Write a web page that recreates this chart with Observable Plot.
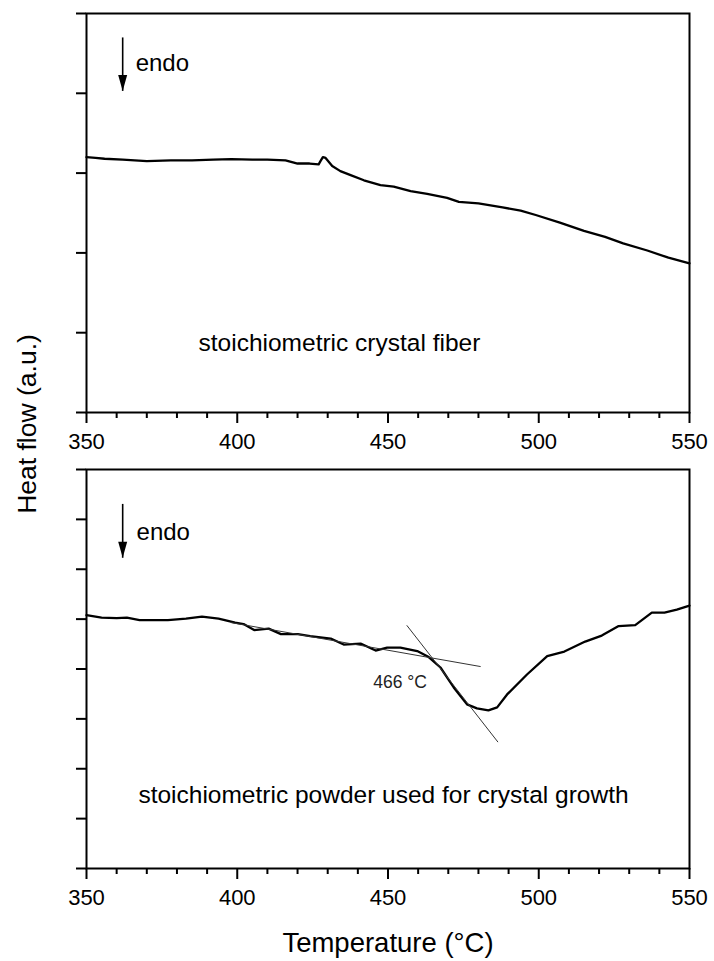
<!DOCTYPE html>
<html><head><meta charset="utf-8">
<script src="https://cdn.jsdelivr.net/npm/d3@7"></script>
<script src="https://cdn.jsdelivr.net/npm/@observablehq/plot@0.6"></script>
<style>
body{margin:0;background:#fff;}
#wrap{position:relative;width:714px;height:961px;background:#fff;font-family:"Liberation Sans",Arial,sans-serif;overflow:hidden;}
#top,#bot{position:absolute;left:0;}
#top{top:0px}
#bot{top:456px}
#ylab{position:absolute;left:27px;top:424px;transform:translate(-50%,-50%) rotate(-90deg);font-size:26.5px;white-space:nowrap;color:#000;}
</style></head><body>
<div id="wrap"><div id="top"></div><div id="bot"></div><div id="ylab">Heat flow (a.u.)</div></div>
<script>
// ---- data ----
const xMajorTicks = [350, 400, 450, 500, 550];
const xMinorTicks = [360, 370, 380, 390, 410, 420, 430, 440, 460, 470, 480, 490, 510, 520, 530, 540];
const topYTicks = [0, 1, 2, 3, 4, 5];
const botYTicks = [0, 1, 2, 3, 4, 5, 6, 7, 8];

// top panel: stoichiometric crystal fiber (temperature °C, heat flow a.u.)
const topT = [350, 353, 356, 362, 370, 378, 385, 392, 398, 405, 410, 416, 420, 424, 427, 427.6, 428.4, 429.3, 431.5, 434.2, 437.6, 442, 447.5, 451.9, 457.5, 463, 469.6, 473.5, 480, 488, 494, 499, 507, 515, 522, 528, 536, 543, 550];
const topV = [3.20, 3.19, 3.18, 3.17, 3.15, 3.16, 3.16, 3.17, 3.175, 3.17, 3.17, 3.16, 3.12, 3.12, 3.11, 3.15, 3.20, 3.19, 3.09, 3.025, 2.975, 2.91, 2.85, 2.83, 2.775, 2.74, 2.69, 2.64, 2.62, 2.57, 2.53, 2.475, 2.38, 2.275, 2.20, 2.12, 2.03, 1.94, 1.87];

// bottom panel: stoichiometric powder
const botT = [350, 355, 360, 363.4, 367.6, 372, 377, 383, 388.3, 393.8, 399.3, 402.1, 405.6, 410.4, 414.5, 420.1, 424.2, 431, 435.3, 440.9, 445.9, 449.7, 454.1, 459.7, 463.5, 467.4, 471.8, 476.2, 479.5, 483.3, 486.2, 489.5, 496.1, 502.8, 508.5, 515.4, 520.9, 526.5, 532, 537.5, 541.7, 545.8, 550];
const botV = [5.08, 5.03, 5.02, 5.03, 4.98, 4.98, 4.98, 5.01, 5.05, 5.01, 4.93, 4.90, 4.78, 4.81, 4.70, 4.70, 4.66, 4.61, 4.49, 4.51, 4.37, 4.43, 4.43, 4.36, 4.24, 4.03, 3.63, 3.29, 3.21, 3.17, 3.23, 3.49, 3.89, 4.26, 4.35, 4.55, 4.67, 4.86, 4.88, 5.13, 5.13, 5.19, 5.27];

// onset tangents
const baseTanT = [398, 480.6];
const baseTanV = [4.93, 4.05];
const steepTanT = [456.3, 486.4];
const steepTanV = [4.87, 2.54];

// annotations
const topLabel = "stoichiometric crystal fiber";
const botLabel = "stoichiometric powder used for crystal growth";
const endoLabel = "endo";
const onsetLabel = "466 °C";
const xLabel = "Temperature (°C)";
const topAnno = {arrowX: 362, arrowY1: 4.70, arrowY2: 4.03, endoX: 366.3, endoY: 4.37, textX: 433.9, textY: 0.87};
const botAnno = {arrowX: 362, arrowY1: 7.31, arrowY2: 6.23, endoX: 366.6, endoY: 6.75, textX: 448.5, textY: 1.47, onsetX: 454.0, onsetY: 3.74};

// ---- helpers ----
const FONT = "Liberation Sans, Arial, Helvetica, sans-serif";
const headDown = {
  draw(ctx) {
    ctx.moveTo(0, 0);
    ctx.lineTo(-4.5, -16);
    ctx.lineTo(4.5, -16);
    ctx.closePath();
  }
};
const toRows = (T, V) => T.map((t, i) => ({t, v: V[i]}));

function panel({height, marginBottom, yMax, yTicks, rows, anno, label, extra = []}) {
  return Plot.plot({
    width: 714,
    height,
    marginLeft: 86,
    marginRight: 25,
    marginTop: 13,
    marginBottom,
    style: {fontFamily: FONT, fontSize: "22px", color: "black", background: "white", overflow: "visible"},
    x: {domain: [350, 550], label: null},
    y: {domain: [0, yMax], label: null},
    marks: [
      Plot.axisX({ticks: xMinorTicks, tickSize: 6, strokeWidth: 2, fill: "none", label: null}),
      Plot.axisX({ticks: xMajorTicks, tickSize: 11, tickPadding: 10, strokeWidth: 2, fontSize: 22, tickFormat: d => String(d), label: null}),
      Plot.axisY({ticks: yTicks, tickSize: 10, strokeWidth: 2, fill: "none", label: null}),
      Plot.frame({stroke: "black", strokeWidth: 2}),
      Plot.line(rows, {x: "t", y: "v", stroke: "black", strokeWidth: 2.3, strokeLinejoin: "round"}),
      ...extra,
      Plot.link([anno], {x1: "arrowX", x2: "arrowX", y1: "arrowY1", y2: "arrowY2", stroke: "black", strokeWidth: 1.6}),
      Plot.dot([anno], {x: "arrowX", y: "arrowY2", symbol: headDown, r: 4, fill: "black", stroke: "none"}),
      Plot.text([anno], {x: "endoX", y: "endoY", text: () => endoLabel, textAnchor: "start", fontSize: 24, fill: "black"}),
      Plot.text([anno], {x: "textX", y: "textY", text: () => label, textAnchor: "middle", fontSize: 24.5, fill: "black"})
    ]
  });
}

const topPlot = panel({
  height: 456, marginBottom: 44, yMax: 5, yTicks: topYTicks,
  rows: toRows(topT, topV), anno: topAnno, label: topLabel
});

const botPlot = panel({
  height: 505, marginBottom: 93, yMax: 8, yTicks: botYTicks,
  rows: toRows(botT, botV), anno: botAnno, label: botLabel,
  extra: [
    Plot.line(toRows(baseTanT, baseTanV), {x: "t", y: "v", stroke: "#333", strokeWidth: 1}),
    Plot.line(toRows(steepTanT, steepTanV), {x: "t", y: "v", stroke: "#333", strokeWidth: 1}),
    Plot.text([botAnno], {x: "onsetX", y: "onsetY", text: () => onsetLabel, textAnchor: "middle", fontSize: 17.5, fill: "#222"}),
    Plot.text([xLabel], {text: d => d, frameAnchor: "bottom", lineAnchor: "middle", dy: 75, fontSize: 27.5, fill: "black"})
  ]
});

document.getElementById("top").appendChild(topPlot);
document.getElementById("bot").appendChild(botPlot);
</script>
</body></html>
